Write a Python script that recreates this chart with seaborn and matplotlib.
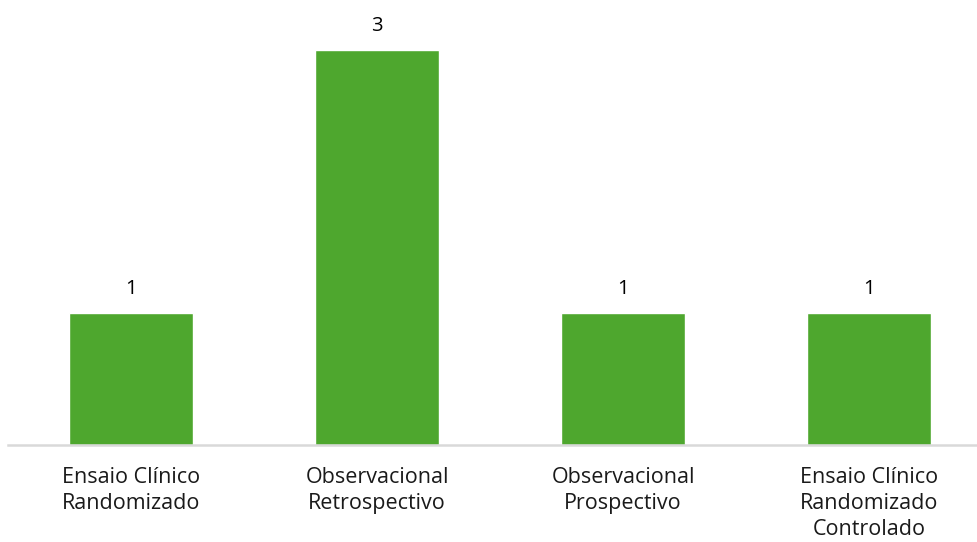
import matplotlib
matplotlib.use("Agg")
import matplotlib.pyplot as plt
import seaborn as sns
import pandas as pd

categories = ["Ensaio Clínico\nRandomizado", "Observacional\nRetrospectivo",
              "Observacional\nProspectivo", "Ensaio Clínico\nRandomizado\nControlado"]
values = [1, 3, 1, 1]

df = pd.DataFrame({"cat": categories, "val": values})

sns.set_theme(style="white")
plt.rcParams['font.family'] = ['Open Sans', 'DejaVu Sans']

fig = plt.figure(figsize=(9.78, 5.42), dpi=100)
ax = fig.add_axes([8/978, (542-445)/542, 970/978, 445/542])
sns.barplot(data=df, x="cat", y="val", color="#4EA72E", saturation=1,
            width=0.504, ax=ax)
ax.set_xlim(-0.5, 3.443)
ax.set_ylim(0, 445/131.7)
for c in ax.containers:
    ax.bar_label(c, labels=[str(v) for v in values], padding=10, fontsize=14.5, color="#000000")
for s in ["top", "right", "left"]:
    ax.spines[s].set_visible(False)
ax.spines["bottom"].set_color("#d9d9d9")
ax.spines["bottom"].set_linewidth(1.8)
ax.set_yticks([])
ax.set_xlabel("")
ax.set_ylabel("")
ax.tick_params(axis="x", length=0, pad=16, labelsize=15.5, colors="#1a1a1a")
for t in ax.get_xticklabels():
    t.set_linespacing(1.32)
fig.savefig("out.png", dpi=100)
